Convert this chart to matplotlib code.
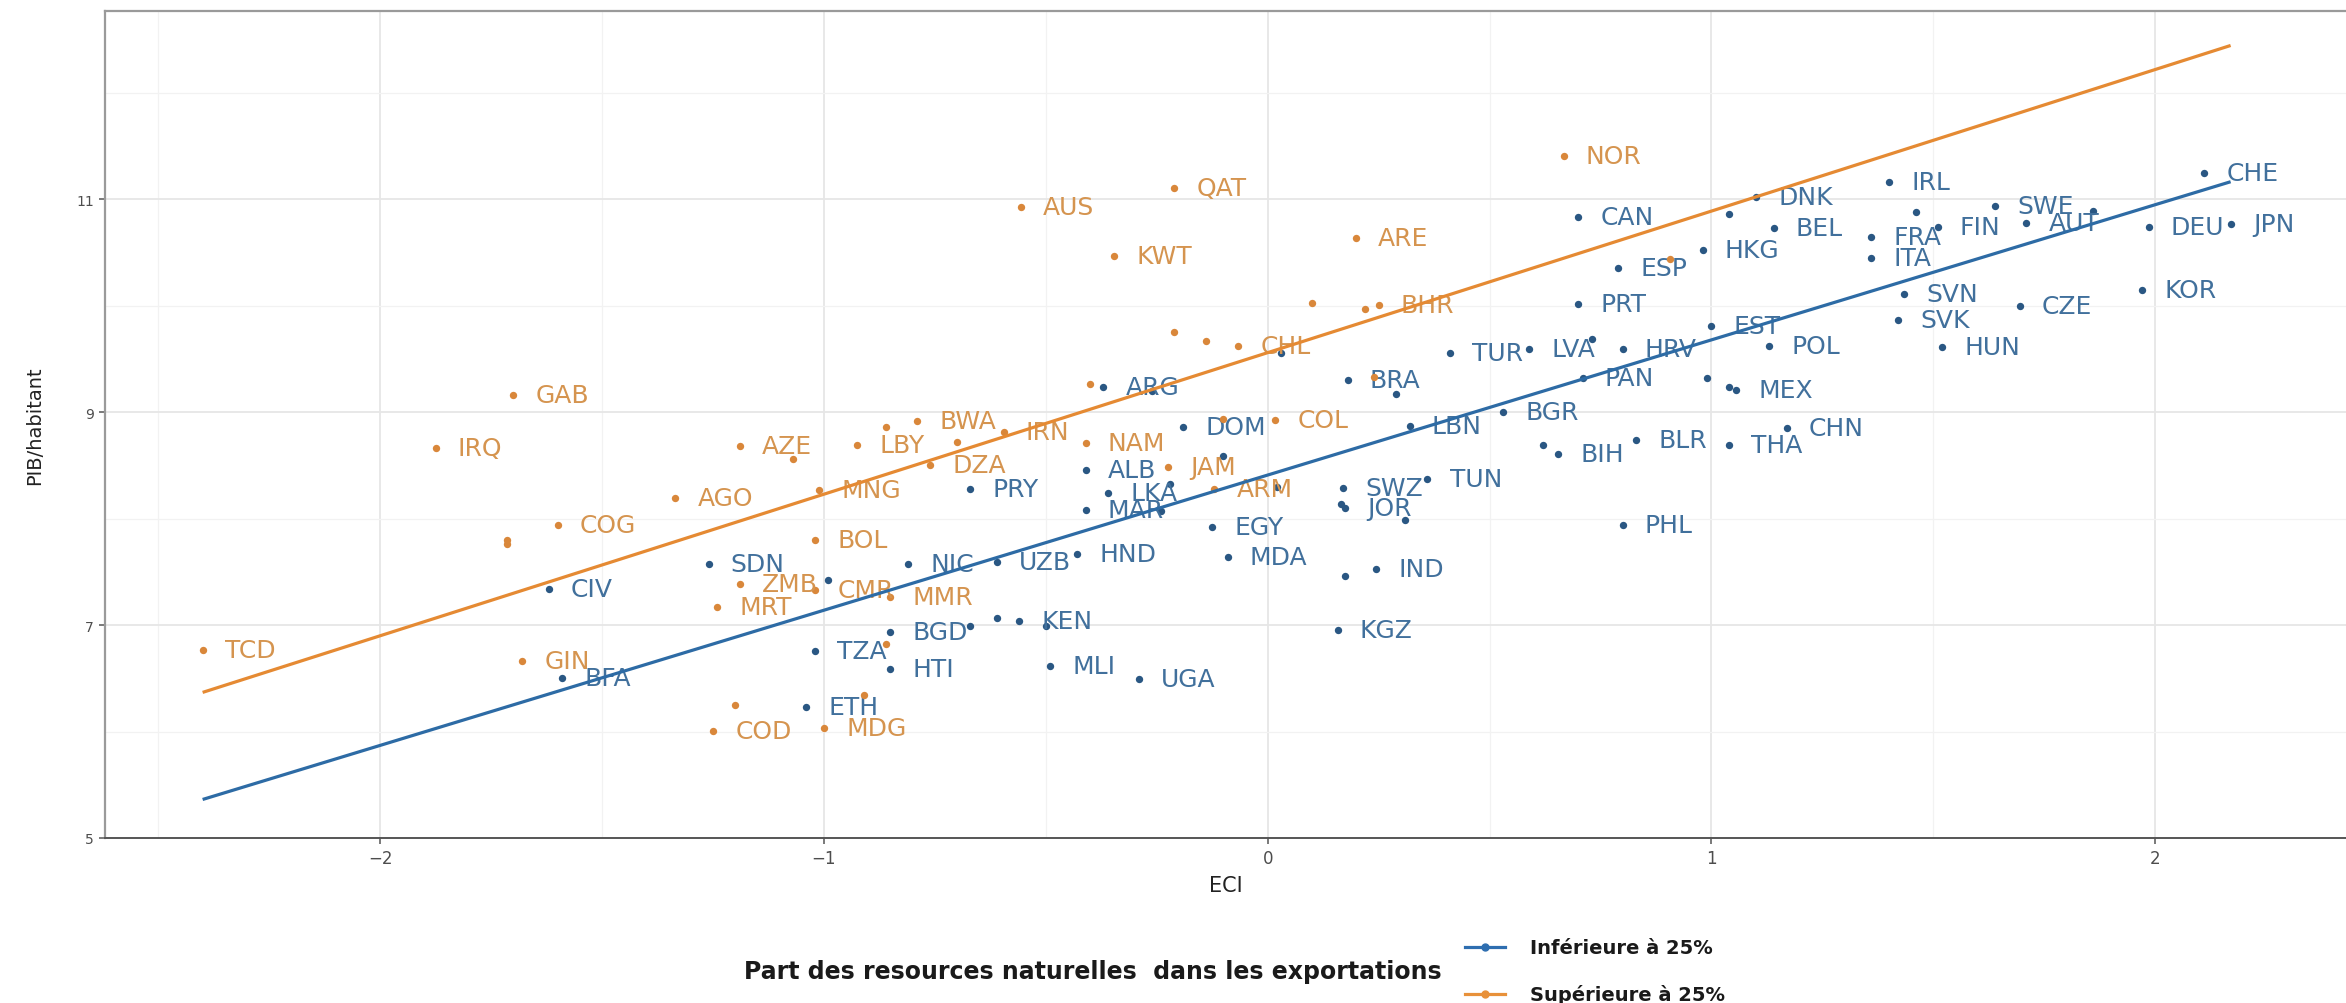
import matplotlib
matplotlib.use("Agg")
import matplotlib.pyplot as plt
from matplotlib.lines import Line2D
import numpy as np

plt.rcParams["font.family"] = ["DejaVu Sans"]

# Countries where natural resources make up less than 25 % of exports
low_codes = ["CHE", "JPN", "DEU", "KOR", "IRL", "SWE", "AUT", "", "FIN", "FRA",
             "", "ITA", "BEL", "DNK", "", "HKG", "CAN", "ESP", "PRT", "SVN",
             "SVK", "CZE", "HUN", "EST", "POL", "TUR", "LVA", "", "HRV", "PAN",
             "", "", "MEX", "BGR", "CHN", "BLR", "THA", "", "BIH", "PHL",
             "LBN", "BRA", "", "", "ARG", "", "DOM", "", "ALB", "LKA",
             "", "MAR", "", "", "SWZ", "", "JOR", "", "TUN", "EGY",
             "MDA", "IND", "", "HND", "NIC", "UZB", "SDN", "", "CIV", "BFA",
             "KEN", "", "", "BGD", "", "KGZ", "TZA", "HTI", "MLI", "UGA",
             "ETH", "PRY"]
low_eci = [2.11, 2.17, 1.985, 1.97, 1.40, 1.64, 1.71, 1.86, 1.51, 1.36,
           1.46, 1.36, 1.14, 1.10, 1.04, 0.98, 0.70, 0.79, 0.70, 1.435,
           1.42, 1.695, 1.52, 1.00, 1.13, 0.41, 0.59, 0.73, 0.80, 0.71,
           0.99, 1.04, 1.055, 0.53, 1.17, 0.83, 1.04, 0.62, 0.655, 0.80,
           0.32, 0.18, 0.29, 0.03, -0.37, -0.26, -0.19, -0.10, -0.41, -0.36,
           -0.22, -0.41, -0.24, 0.02, 0.17, 0.165, 0.175, 0.31, 0.36, -0.125,
           -0.09, 0.244, 0.175, -0.43, -0.81, -0.61, -1.26, -0.99, -1.62, -1.59,
           -0.56, -0.61, -0.50, -0.85, -0.67, 0.158, -1.02, -0.85, -0.49, -0.29,
           -1.04, -0.67]
low_pib = [11.25, 10.77, 10.74, 10.15, 11.16, 10.94, 10.78, 10.89, 10.74, 10.65,
           10.88, 10.45, 10.73, 11.02, 10.86, 10.52, 10.83, 10.36, 10.02, 10.11,
           9.87, 10.00, 9.61, 9.81, 9.62, 9.56, 9.59, 9.69, 9.59, 9.32,
           9.32, 9.24, 9.21, 9.00, 8.85, 8.74, 8.69, 8.69, 8.61, 7.94,
           8.87, 9.30, 9.17, 9.56, 9.24, 9.20, 8.86, 8.59, 8.46, 8.24,
           8.33, 8.08, 8.07, 8.30, 8.29, 8.14, 8.10, 7.99, 8.37, 7.92,
           7.64, 7.53, 7.46, 7.67, 7.57, 7.59, 7.57, 7.42, 7.34, 6.50,
           7.04, 7.07, 6.99, 6.94, 6.99, 6.95, 6.76, 6.59, 6.62, 6.49,
           6.23, 8.28]

# Countries where natural resources make up more than 25 % of exports
high_codes = ["NOR", "QAT", "AUS", "KWT", "ARE", "", "", "BHR", "", "",
              "CHL", "", "", "", "", "COL", "NAM", "JAM", "ARM", "IRN",
              "BWA", "", "LBY", "", "DZA", "AZE", "", "GAB", "IRQ", "AGO",
              "MNG", "COG", "", "", "BOL", "ZMB", "CMR", "MMR", "MRT", "TCD",
              "GIN", "", "", "COD", "MDG", ""]
high_eci = [0.667, -0.21, -0.556, -0.346, 0.198, 0.10, 0.22, 0.25, -0.21, -0.14,
            -0.067, 0.906, -0.40, 0.24, -0.10, 0.017, -0.41, -0.225, -0.12, -0.595,
            -0.79, -0.86, -0.925, -0.70, -0.76, -1.19, -1.07, -1.70, -1.875, -1.335,
            -1.01, -1.60, -1.714, -1.714, -1.02, -1.19, -1.02, -0.85, -1.24, -2.40,
            -1.68, -1.20, -0.91, -1.25, -1.00, -0.86]
high_pib = [11.41, 11.11, 10.93, 10.47, 10.64, 10.03, 9.97, 10.01, 9.75, 9.67,
            9.62, 10.44, 9.27, 9.33, 8.94, 8.93, 8.71, 8.49, 8.28, 8.81,
            8.92, 8.86, 8.69, 8.72, 8.50, 8.68, 8.56, 9.16, 8.66, 8.19,
            8.27, 7.94, 7.80, 7.76, 7.80, 7.39, 7.33, 7.26, 7.17, 6.77,
            6.66, 6.25, 6.34, 6.01, 6.03, 6.82]

# Linear fits per group: (intercept, slope)
low_fit = (8.41, 1.27)
high_fit = (9.56, 1.33)

group_labels = ["Inférieure à 25%", "Supérieure à 25%"]
legend_title = "Part des resources naturelles  dans les exportations"

BLUE_PT, BLUE_LINE, BLUE_TXT = "#2A5783", "#2D6BA5", "#41709C"
ORANGE_PT, ORANGE_LINE, ORANGE_TXT = "#D9873A", "#E58A33", "#D5944F"

W, H = 2346, 1004
fig = plt.figure(figsize=(W / 100, H / 100), dpi=100)
ax = fig.add_axes([105 / W, 165 / H, (W - 105) / W, 827 / H])

ax.set_xlim(-2.62, 2.43)
ax.set_ylim(5, 12.77)
ax.set_xticks([-2, -1, 0, 1, 2])
ax.set_xticks([-2.5, -1.5, -0.5, 0.5, 1.5], minor=True)
ax.set_yticks([5, 7, 9, 11])
ax.set_yticks([6, 8, 10, 12], minor=True)
ax.grid(which="major", color="#E6E6E6", lw=1.3, zorder=0)
ax.grid(which="minor", color="#F2F2F2", lw=0.9, zorder=0)
ax.set_axisbelow(True)
ax.tick_params(which="minor", length=0)
ax.tick_params(which="major", length=4, width=1.1, color="#555555",
               labelcolor="#4D4D4D", pad=4)
ax.tick_params(axis="x", labelsize=12)
ax.tick_params(axis="y", labelsize=10)

for side in ["top", "left"]:
    ax.spines[side].set_color("#9A9A9A")
    ax.spines[side].set_linewidth(1.6)
ax.spines["bottom"].set_color("#555555")
ax.spines["bottom"].set_linewidth(1.4)
ax.spines["right"].set_visible(False)

all_eci = np.array(low_eci + high_eci)
xs = np.linspace(all_eci.min(), all_eci.max(), 50)

groups = [
    (low_codes, low_eci, low_pib, low_fit, BLUE_PT, BLUE_LINE, BLUE_TXT),
    (high_codes, high_eci, high_pib, high_fit, ORANGE_PT, ORANGE_LINE, ORANGE_TXT),
]
for codes, eci, pib, fit, c_pt, c_line, c_txt in groups:
    ax.scatter(eci, pib, s=28, color=c_pt, zorder=3, linewidths=0)
    for code, x, y in zip(codes, eci, pib):
        if code:
            ax.annotate(code, (x, y), xytext=(16, 0), textcoords="offset points",
                        ha="left", va="center", fontsize=18, color=c_txt, zorder=3)
    ax.plot(xs, fit[0] + fit[1] * xs, color=c_line, lw=2.3, zorder=4,
            solid_capstyle="butt")

ax.set_xlabel("ECI", fontsize=15, color="#222222", labelpad=6)
ax.set_ylabel("PIB/habitant", fontsize=14, color="#222222", labelpad=23)

# Legend at the bottom: title on the left, two keys stacked on the right
fig.text(1442 / W, 1 - 972 / H, legend_title, ha="right", va="center",
         fontsize=17, fontweight="bold", color="#1A1A1A")
for i, (lab, c) in enumerate(zip(group_labels, ["#2E6EB0", "#E8913A"])):
    yk = 1 - (948 + 47 * i) / H
    fig.add_artist(Line2D([1465 / W, 1505 / W], [yk, yk], color=c, lw=2.3,
                          transform=fig.transFigure))
    fig.add_artist(Line2D([1485 / W], [yk], marker="o", markersize=5,
                          color=c, transform=fig.transFigure))
    fig.text(1530 / W, yk, lab, ha="left", va="center", fontsize=14,
             fontweight="bold", color="#1A1A1A")

fig.savefig("out.png", dpi=100)
